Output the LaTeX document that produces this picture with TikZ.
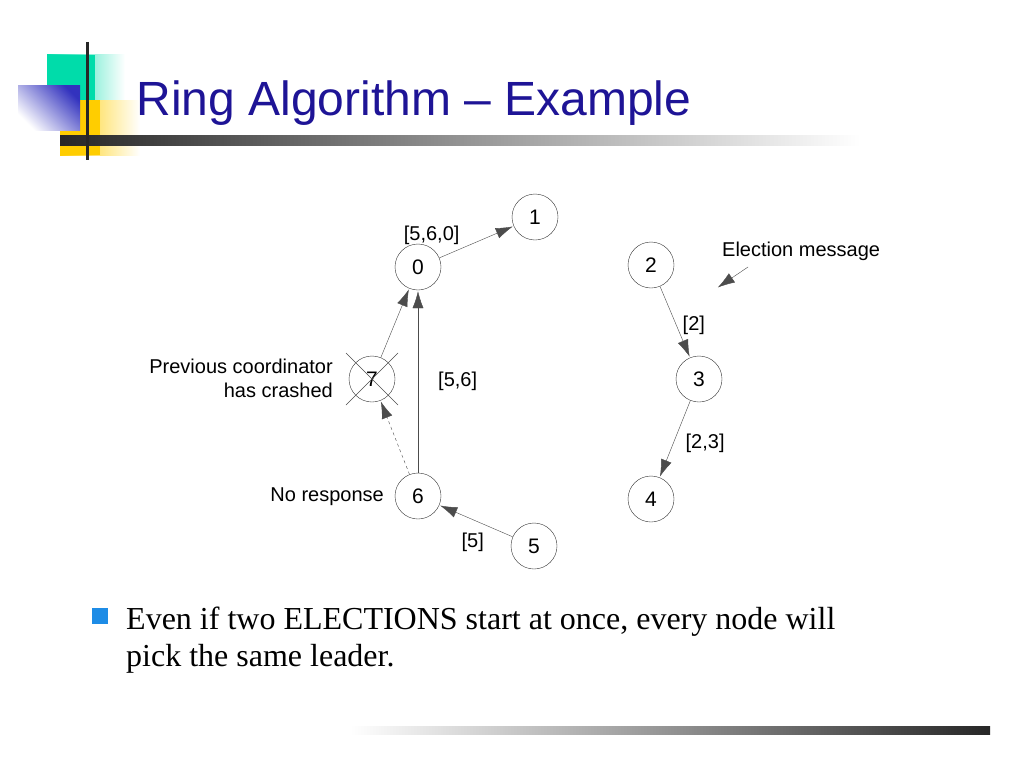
\documentclass[tikz,border=0pt]{standalone}
\usepackage{fontspec}
\setmainfont{Liberation Serif}
\setsansfont{Liberation Sans}
\usetikzlibrary{arrows.meta,positioning}
\definecolor{titleblue}{RGB}{30,20,150}
\definecolor{sqgreen}{RGB}{0,220,170}
\definecolor{sqyellow}{RGB}{255,205,0}
\definecolor{sqblue}{RGB}{50,50,190}
\definecolor{bulletblue}{RGB}{30,140,230}
\tikzset{
  proc/.style={circle, draw=black!80, thin, minimum size=46pt, inner sep=0pt, font=\sffamily\fontsize{21}{21}\selectfont},
  lbl/.style={font=\sffamily\fontsize{20}{24}\selectfont, inner sep=0pt},
  msg/.style={-{Latex[length=17pt,width=11pt]}, draw=black!70, thin, shorten >=1pt}
}
\begin{document}
\begin{tikzpicture}[x=1pt,y=-1pt]
            \useasboundingbox (0,0) rectangle (1024,768);
            \fill[white] (0,0) rectangle (1024,768);

            %Title decoration.
            \shade[left color=sqgreen, right color=white] (47,55) rectangle (125,100);
            \fill[sqgreen] (47,55) rectangle (95,100);
            \shade[left color=sqyellow, right color=white] (60,100) rectangle (140,155);
            \fill[sqyellow] (60,100) rectangle (100,155);
            \shade[top color=sqblue, bottom color=white, shading angle=-45] (18,85) rectangle (80,130);
            \shade[left color=black!85, right color=white] (60,135) rectangle (860,145);
            \draw[line width=3pt, black!85] (87,42) -- (87,160);
            \node (title) at (133,103) [anchor=west, text=titleblue, font=\sffamily\fontsize{48}{48}\selectfont] {Ring Algorithm -- Example};

            \node (1) at (535,217) [proc] {1};
            \node (0) at (418,267) [proc] {0};
            \node (2) at (651,265) [proc] {2};
            \node (3) at (699,379) [proc] {3};
            \node (7) at (372,379) [proc] {7};
            \node (4) at (651,499) [proc] {4};
            \node (6) at (418,496) [proc] {6};
            \node (5) at (534,546) [proc] {5};

            %Crash cross over the old coordinator.
            \draw[black!70, thin] (346,353) -- (398,405) (398,353) -- (346,405);

            \draw[msg] (0) to node [lbl, pos=0.3, above left=4pt and 2pt] {[5,6,0]} (1);
            \draw[msg] (7) to (0);
            \draw[msg] (6) to node [lbl, right=20pt] {[5,6]} (0);
            \draw[msg, dashed] (6) to (7);
            \draw[msg] (5) to node [lbl, below left=12pt and -8pt] {[5]} (6);
            \draw[msg] (2) to node [lbl, pos=0.55, right=6pt] {[2]} (3);
            \draw[msg] (3) to node [lbl, pos=0.55, right=12pt] {[2,3]} (4);

            \node (elec) at (722,251) [lbl, anchor=west] {Election message};
            \coordinate (elecend) at (748,267);
            \draw[msg] (elecend) to (717,288);

            \node (crash) at (333,378) [lbl, anchor=east, align=right] {Previous coordinator\\has crashed};
            \node (noresp) at (384,497) [lbl, anchor=east] {No response};

            \fill[bulletblue] (92,608) rectangle (108,624);
            \node (text) at (126,640) [anchor=west, align=left, font=\fontsize{32}{37}\selectfont, inner sep=0pt] {Even if two ELECTIONS start at once, every node will\\pick the same leader.};

            \shade[left color=white, right color=black!85] (350,726) rectangle (990,734);
        \end{tikzpicture}
\end{document}
